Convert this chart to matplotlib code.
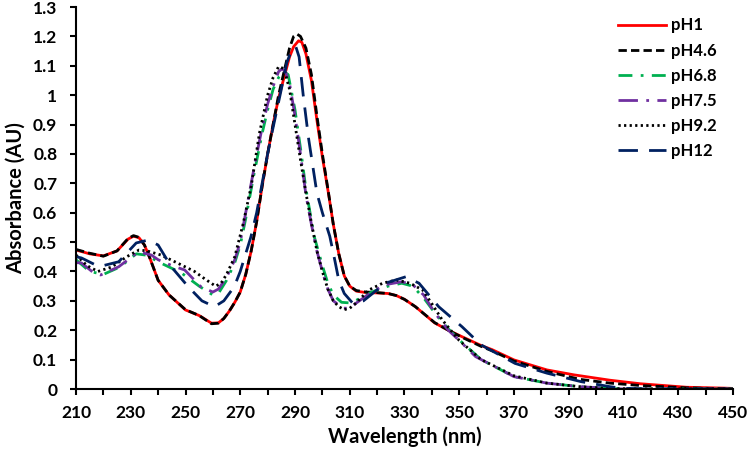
import numpy as np
import matplotlib
matplotlib.use('Agg')
import matplotlib.pyplot as plt
from matplotlib.ticker import FixedLocator, MultipleLocator, FuncFormatter

plt.rcParams['font.family'] = ['Lato', 'DejaVu Sans']
plt.rcParams['font.weight'] = 'bold'

# wavelength (nm) vs absorbance (AU)
wl_ph1 = [210, 215, 220, 225, 229, 231, 233, 235, 237, 240, 244, 250, 255, 259.5, 262, 264,
          266, 268, 270, 272, 274, 276, 278, 280, 282.3, 284, 286, 288, 289.5, 291.3, 292.5,
          294, 296, 298, 300, 302.2, 304, 306, 308, 310, 312.4, 316, 320, 324, 327, 330, 334,
          341, 346, 351, 358, 362, 370, 382, 392, 405, 416, 433, 447, 450]
ab_ph1 = [0.473, 0.46, 0.453, 0.47, 0.51, 0.52, 0.515, 0.49, 0.445, 0.37, 0.32, 0.269, 0.25,
          0.224, 0.225, 0.24, 0.265, 0.295, 0.33, 0.39, 0.47, 0.57, 0.69, 0.80, 0.915, 0.99,
          1.06, 1.13, 1.165, 1.185, 1.18, 1.14, 1.05, 0.915, 0.79, 0.667, 0.56, 0.46, 0.385,
          0.35, 0.333, 0.328, 0.327, 0.325, 0.318, 0.305, 0.28, 0.225, 0.20, 0.178, 0.148,
          0.134, 0.099, 0.065, 0.048, 0.03, 0.018, 0.006, 0.003, 0.002]

wl_ph46 = [210, 215, 220, 225, 229, 231, 233, 235, 237, 240, 244, 250, 255, 259.5, 262, 264,
           266, 268, 270, 272, 274, 276, 278, 280, 282.3, 284, 286, 288, 289.5, 290.7, 292,
           294, 296, 298, 300, 302.2, 304, 306, 308, 310, 312.4, 316, 320, 324, 327, 330, 334,
           341, 346, 351, 358, 362, 370, 382, 394, 405, 416, 433, 450]
ab_ph46 = [0.475, 0.462, 0.452, 0.47, 0.512, 0.522, 0.516, 0.49, 0.445, 0.37, 0.32, 0.27, 0.25,
           0.222, 0.224, 0.24, 0.265, 0.295, 0.33, 0.39, 0.47, 0.57, 0.69, 0.80, 0.915, 1.0,
           1.08, 1.16, 1.2, 1.208, 1.2, 1.16, 1.07, 0.93, 0.8, 0.67, 0.56, 0.46, 0.385, 0.35,
           0.335, 0.33, 0.328, 0.325, 0.318, 0.305, 0.28, 0.226, 0.20, 0.176, 0.145, 0.13,
           0.095, 0.06, 0.033, 0.02, 0.012, 0.004, 0.0]

wl_ph68 = [210, 215, 220, 226, 232, 236, 240, 248.5, 255, 260, 262, 265, 268, 270, 272, 275,
           278, 280, 282, 284, 286, 287.5, 290, 292, 294, 297, 300, 302, 304, 307, 310, 312,
           315, 318, 324, 329, 333, 337, 341, 346, 350, 358, 370, 382, 394, 403, 410, 450]
ab_ph68 = [0.44, 0.40, 0.39, 0.415, 0.46, 0.455, 0.433, 0.395, 0.35, 0.32, 0.325, 0.37, 0.43,
           0.49, 0.58, 0.73, 0.87, 0.95, 1.02, 1.06, 1.08, 1.07, 0.95, 0.82, 0.68, 0.52, 0.42,
           0.36, 0.32, 0.295, 0.293, 0.30, 0.315, 0.33, 0.35, 0.36, 0.35, 0.31, 0.26, 0.205,
           0.167, 0.10, 0.042, 0.02, 0.008, 0.003, 0.0, 0.0]

wl_ph75 = [210, 212, 216.5, 219, 225.6, 232.8, 237.5, 240, 245, 249.7, 255.6, 260, 262, 265,
           268, 270, 272, 275, 278, 280, 282, 284, 285.3, 286.5, 288, 290, 292, 294, 296, 298,
           300, 302, 304, 307.5, 310, 312, 315, 318, 323, 329, 333, 337, 341, 346, 350, 356,
           370, 382, 394, 403, 410, 450]
ab_ph75 = [0.43, 0.429, 0.395, 0.388, 0.416, 0.467, 0.456, 0.44, 0.42, 0.405, 0.348, 0.33,
           0.34, 0.38, 0.44, 0.50, 0.60, 0.75, 0.89, 0.97, 1.03, 1.08, 1.09, 1.08, 1.04, 0.93,
           0.80, 0.66, 0.56, 0.47, 0.40, 0.34, 0.30, 0.275, 0.275, 0.29, 0.31, 0.33, 0.355,
           0.365, 0.355, 0.32, 0.26, 0.20, 0.165, 0.11, 0.042, 0.02, 0.008, 0.003, 0.0, 0.0]

wl_ph92 = [210, 214, 218, 223, 228.5, 233, 236, 241, 247, 253.3, 257, 261, 263, 265, 268, 271,
           274, 277, 280, 282, 284, 286, 288, 289.5, 292, 294, 296, 298, 300, 302, 304, 306,
           308, 310, 312, 317, 322, 327, 332, 336.6, 340, 343.8, 350, 358, 370, 382, 394, 403,
           410, 450]
ab_ph92 = [0.456, 0.42, 0.40, 0.415, 0.45, 0.473, 0.47, 0.456, 0.429, 0.40, 0.375, 0.35, 0.36,
           0.39, 0.45, 0.56, 0.69, 0.87, 1.0, 1.06, 1.097, 1.09, 1.02, 0.93, 0.78, 0.667, 0.565,
           0.47, 0.40, 0.34, 0.30, 0.28, 0.27, 0.275, 0.29, 0.337, 0.36, 0.371, 0.36, 0.337,
           0.29, 0.235, 0.165, 0.10, 0.045, 0.02, 0.008, 0.003, 0.001, 0.0]

wl_ph12 = [210, 212, 217.6, 220, 225.6, 232, 236.4, 240, 244.8, 251, 256, 260.6, 264, 267.8,
           270, 273.9, 276, 278, 280, 282, 285, 287, 289, 290.3, 291.5, 293, 295, 298, 300,
           302.7, 304.5, 306, 308, 311, 315, 319, 323, 330.5, 335.3, 338, 342.5, 351, 358,
           370.4, 382, 394.5, 405, 410, 420, 450]
ab_ph12 = [0.45, 0.446, 0.42, 0.42, 0.433, 0.497, 0.507, 0.49, 0.416, 0.348, 0.30, 0.28, 0.30,
           0.348, 0.40, 0.518, 0.60, 0.70, 0.80, 0.89, 1.02, 1.11, 1.16, 1.165, 1.13, 1.0,
           0.85, 0.667, 0.6, 0.52, 0.44, 0.37, 0.325, 0.293, 0.30, 0.33, 0.36, 0.382, 0.36,
           0.33, 0.28, 0.212, 0.15, 0.087, 0.054, 0.025, 0.008, 0.002, 0.0, 0.0]

x_labels = [210, 230, 250, 270, 290, 310, 330, 350, 370, 390, 410, 430, 450]

fig = plt.figure(figsize=(7.49, 4.53), dpi=100)
ax = fig.add_axes([76 / 749, 1 - 389 / 453, 657 / 749, 382 / 453])

ax.plot(wl_ph1, ab_ph1, color='#FF0000', lw=2, label='pH1')
ax.plot(wl_ph46, ab_ph46, color='black', lw=2, ls=(0, (3, 1.5)), label='pH4.6')
ax.plot(wl_ph68, ab_ph68, color='#00B050', lw=2, ls=(0, (5, 3, 1, 3)), label='pH6.8')
ax.plot(wl_ph75, ab_ph75, color='#7030A0', lw=2, ls=(0, (7, 3, 1, 3)), label='pH7.5')
ax.plot(wl_ph92, ab_ph92, color='black', lw=2, ls=(0, (0.8, 1.2)), label='pH9.2')
ax.plot(wl_ph12, ab_ph12, color='#002060', lw=2, ls=(0, (7, 4)), label='pH12')

ax.set_xlim(210, 450)
ax.set_ylim(0, 1.3)
ax.xaxis.set_major_locator(FixedLocator(x_labels))
ax.xaxis.set_minor_locator(MultipleLocator(10))
ax.yaxis.set_major_locator(MultipleLocator(0.1))
ax.yaxis.set_major_formatter(FuncFormatter(lambda v, p: ('%.1f' % v).rstrip('0').rstrip('.')))
ax.tick_params(axis='both', which='both', direction='out', length=4.5, width=1.5, labelsize=12.5)
ax.tick_params(axis='x', pad=7)
ax.tick_params(axis='y', pad=9)
for lab in ax.get_xticklabels() + ax.get_yticklabels():
    lab.set_fontweight('bold')
for s in ['top', 'right']:
    ax.spines[s].set_visible(False)
for s in ['left', 'bottom']:
    ax.spines[s].set_linewidth(1.5)

ax.set_xlabel('Wavelength (nm)', fontsize=14.5, fontweight='bold', labelpad=4)
ax.set_ylabel('Absorbance (AU)', fontsize=14.5, fontweight='bold', labelpad=5)

leg = ax.legend(loc='upper left', bbox_to_anchor=(0.815, 0.99), frameon=False, fontsize=12,
                handlelength=2.9, labelspacing=0.55, handletextpad=0.3, borderaxespad=0.0)
for t in leg.get_texts():
    t.set_fontweight('bold')

fig.savefig('out.png', dpi=100)
